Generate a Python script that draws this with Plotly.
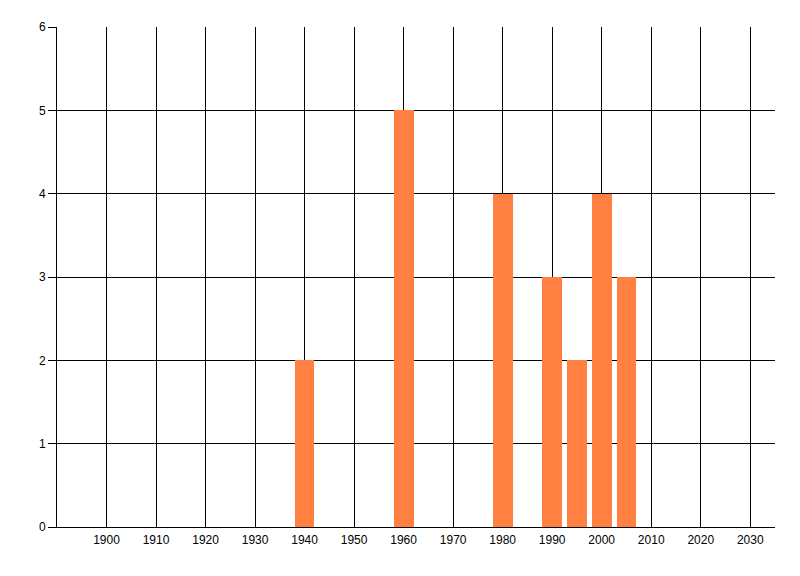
import plotly.graph_objects as go

# -------- DATA --------
years = [1940, 1960, 1980, 1990, 1995, 2000, 2005]
counts = [2, 5, 4, 3, 2, 4, 3]
x_ticks = list(range(1900, 2031, 10))
y_ticks = [0, 1, 2, 3, 4, 5, 6]

fig = go.Figure()

fig.add_trace(go.Bar(
    x=years, y=counts, width=4,
    marker=dict(color='rgb(255,128,64)', line=dict(width=0)),
))

# page body adds ~8px offset, so margins compensate
fig.update_layout(
    width=800, height=576,
    plot_bgcolor='white', paper_bgcolor='white',
    font=dict(family='Liberation Sans, Arial, sans-serif', size=12, color='black'),
    margin=dict(l=49, r=33, t=19, b=57),
    showlegend=False,
    bargap=0,
)

fig.update_xaxes(
    range=[1890, 2035], tickvals=x_ticks, ticktext=[str(v) for v in x_ticks],
    showgrid=True, gridcolor='black', gridwidth=1,
    showline=True, linecolor='black', linewidth=1,
    ticks='outside', ticklen=2, tickcolor='white',
    zeroline=False, fixedrange=True,
)
fig.update_yaxes(
    range=[0, 6], tickvals=y_ticks,
    showgrid=True, gridcolor='black', gridwidth=1,
    showline=True, linecolor='black', linewidth=1,
    ticks='outside', ticklen=8, tickcolor='black',
    zeroline=False, fixedrange=True,
)

fig.write_html("out.html")
